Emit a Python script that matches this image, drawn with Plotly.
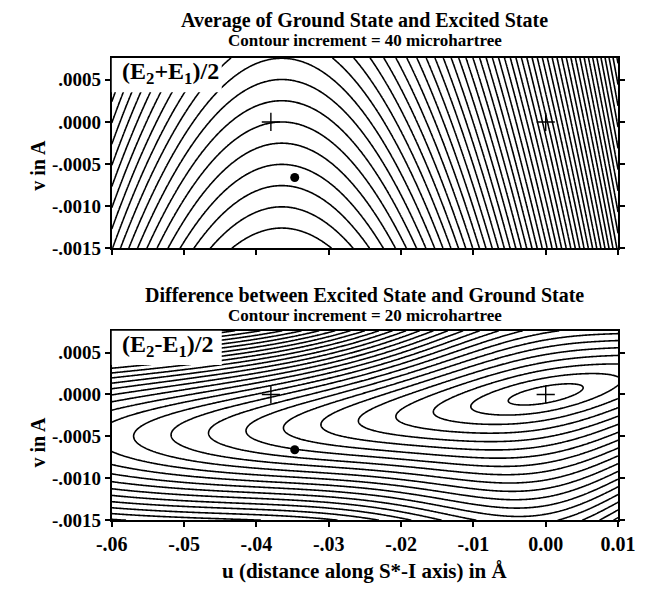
import numpy as np
import plotly.graph_objects as go

# ---------------- data ----------------
u_range = [-0.06, 0.01]
v_range = [-0.0015, 0.00076]
x_tickvals = [-0.06, -0.05, -0.04, -0.03, -0.02, -0.01, 0.0, 0.01]
x_ticktext = ["-.06", "-.05", "-.04", "-.03", "-.02", "-.01", "0.00", "0.01"]
y_tickvals = [0.0005, 0.0, -0.0005, -0.0010, -0.0015]
y_ticktext = [".0005", ".0000", "-.0005", "-.0010", "-.0015"]

plus_u = [-0.038, 0.0]
plus_v = [0.0, 0.0]
dot_u = [-0.0347]
dot_v = [-0.00066]

# average surface (in contour-increment units): quadratic in u, linear in v
avg_u0 = -0.0365
avg_curv = 20000.0
avg_vgrad = 3970.0
avg_levels = [-10, 70, 1]

# difference surface (cone-like, in contour-increment units)
dif_uc = 0.0
dif_a = 1 / 0.00518
dif_b0 = 9800.0
dif_b1 = 8000.0
dif_bscale = 0.025
dif_axis_s1 = 0.015
dif_axis_s2 = 0.11
dif_beta = 150.0
dif_levels = [1, 80, 1]

titles_top = ["Average of Ground State and Excited State", "Contour increment = 40 microhartree"]
titles_bot = ["Difference between Excited State and Ground State", "Contour increment = 20 microhartree"]
box_labels = ["(E<sub>2</sub>+E<sub>1</sub>)/2", "(E<sub>2</sub>-E<sub>1</sub>)/2"]
x_label = "u (distance along S*-I axis) in Å"
y_label = "v in A"

# ---------------- surfaces ----------------
u = np.linspace(u_range[0], u_range[1], 561)
v = np.linspace(v_range[0], v_range[1], 361)
U, V = np.meshgrid(u, v)

z_avg = avg_curv * (U - avg_u0) ** 2 + avg_vgrad * V

d = U - dif_uc
v_ax = dif_axis_s1 * d + dif_axis_s2 * d ** 2
w = V - v_ax
b = dif_b0 + dif_b1 * (1 - np.exp(-(d / dif_bscale) ** 2))
g = b * w * (1 + dif_beta * np.maximum(w, 0))
z_dif = np.sqrt((dif_a * d) ** 2 + g ** 2)

# ---------------- figure ----------------
W, H = 655, 595
px_l, px_r = 101, 635
top_px = (59, 253)
bot_px = (337, 530)

fig = go.Figure()
serif = "Liberation Serif"

def dom_y(p):
    return [1 - p[1] / H, 1 - p[0] / H]

def add_panel(z, lev, xa, ya):
    fig.add_trace(go.Contour(
        x=u, y=v, z=z, xaxis=xa, yaxis=ya,
        autocontour=False,
        contours=dict(start=lev[0], end=lev[1], size=lev[2], coloring="none"),
        line=dict(color="black", width=1.6, smoothing=0),
        showscale=False, hoverinfo="skip"))
    fig.add_trace(go.Scatter(
        x=plus_u, y=plus_v, xaxis=xa, yaxis=ya, mode="markers",
        marker=dict(symbol="cross-thin", size=13, line=dict(color="black", width=1.4)),
        showlegend=False, hoverinfo="skip"))
    fig.add_trace(go.Scatter(
        x=dot_u, y=dot_v, xaxis=xa, yaxis=ya, mode="markers",
        marker=dict(symbol="circle", size=9, color="black"),
        showlegend=False, hoverinfo="skip"))

add_panel(z_avg, avg_levels, "x", "y")
add_panel(z_dif, dif_levels, "x2", "y2")

xdom = [px_l / W, px_r / W]
common_x = dict(range=u_range, domain=xdom, tickvals=x_tickvals, ticktext=x_ticktext,
                ticks="outside", ticklen=5, tickwidth=1.5, tickcolor="black",
                showline=True, linecolor="black", linewidth=2, mirror=True,
                showgrid=False, zeroline=False,
                tickfont=dict(family=serif, size=20, color="black", weight="bold"))
common_y = dict(range=v_range, tickvals=y_tickvals, ticktext=y_ticktext,
                ticks="outside", ticklen=5, tickwidth=1.5, tickcolor="black",
                showline=True, linecolor="black", linewidth=2, mirror="ticks",
                showgrid=False, zeroline=False,
                tickfont=dict(family=serif, size=19, color="black", weight="bold"))

fig.update_layout(
    width=W, height=H, margin=dict(l=0, r=0, t=0, b=0),
    paper_bgcolor="white", plot_bgcolor="white", showlegend=False,
    xaxis=dict(common_x, anchor="y", showticklabels=False),
    yaxis=dict(common_y, domain=dom_y(top_px), anchor="x"),
    xaxis2=dict(common_x, anchor="y2"),
    yaxis2=dict(common_y, domain=dom_y(bot_px), anchor="x2"),
)

# label boxes
box_w = 116 / (px_r - px_l)
for xa, ya, ph, lab in [("x", "y", top_px, box_labels[0]), ("x2", "y2", bot_px, box_labels[1])]:
    hgt = 35 / (ph[1] - ph[0])
    fig.add_shape(type="rect", xref=xa + " domain", yref=ya + " domain",
                  x0=0, x1=box_w, y0=1 - hgt, y1=1, fillcolor="white",
                  line=dict(width=0), layer="above")
    fig.add_annotation(xref=xa + " domain", yref=ya + " domain", x=0.016, y=1 - hgt / 2 + 0.01,
                       xanchor="left", yanchor="middle", showarrow=False,
                       text="<b>" + lab + "</b>",
                       font=dict(family=serif, size=24, color="black"))

def ptext(txt, xpx, ypx, size, angle=0):
    fig.add_annotation(xref="paper", yref="paper", x=xpx / W, y=1 - ypx / H,
                       xanchor="center", yanchor="middle", showarrow=False,
                       text="<b>" + txt + "</b>", textangle=angle,
                       font=dict(family=serif, size=size, color="black"))

cx = (px_l + px_r) / 2
ptext(titles_top[0], cx, 21, 20)
ptext(titles_top[1], cx, 41, 17)
ptext(titles_bot[0], cx, 301, 20)
ptext(titles_bot[1], cx, 321, 17)
ptext(x_label, cx, 582, 21)
ptext(y_label, 23, 168, 20, -90)
ptext(y_label, 23, 450, 20, -90)

fig.write_html("out.html")
